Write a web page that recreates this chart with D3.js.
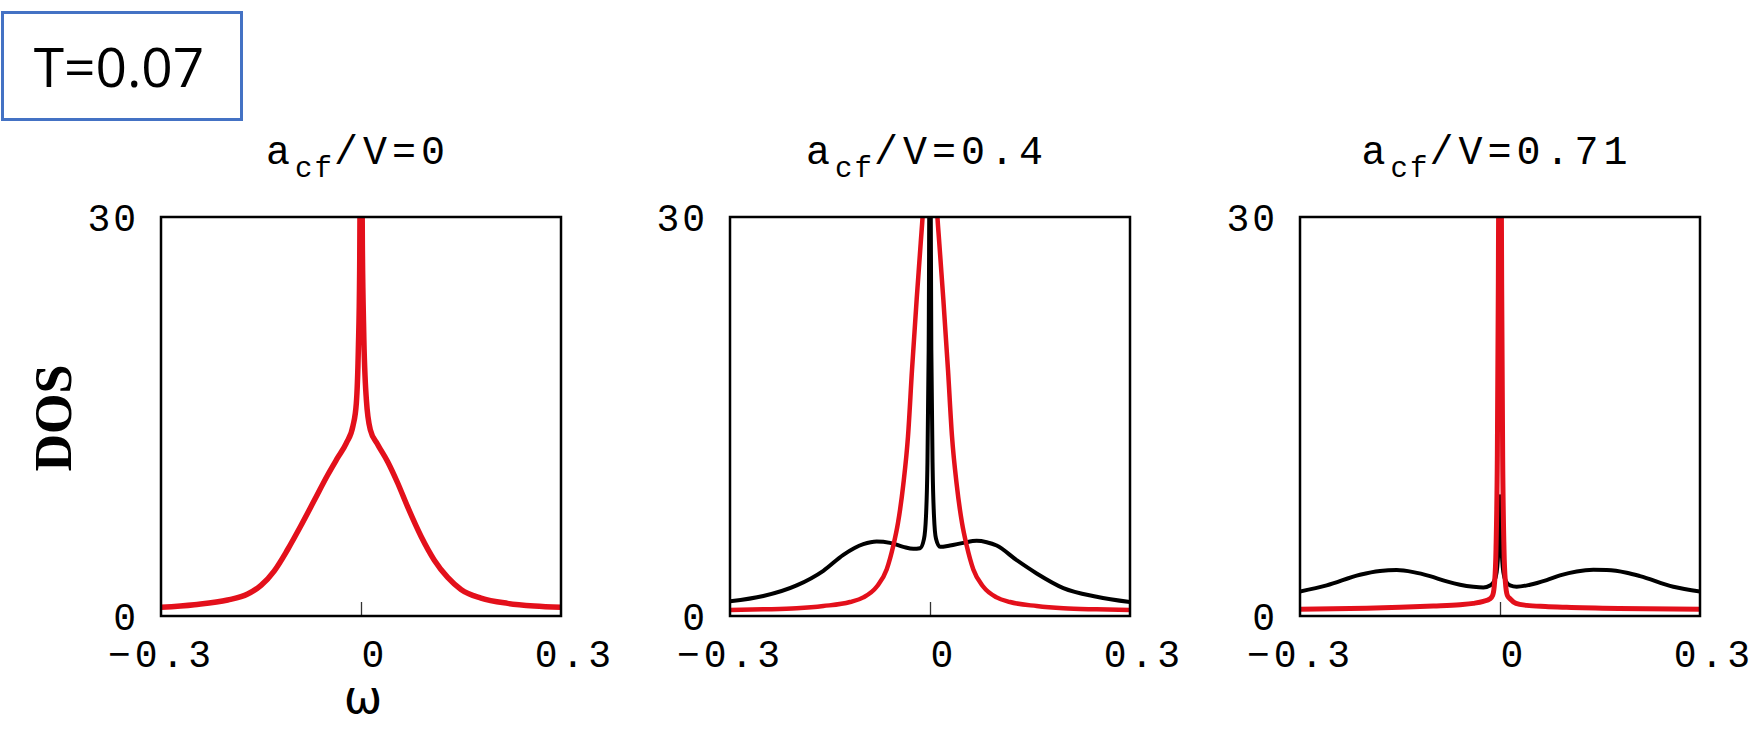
<!DOCTYPE html>
<meta charset="utf-8">
<script src="https://d3js.org/d3.v7.js"></script>
<style>
    body { margin: 0; background: #fff; }
</style>

<dos-chart></dos-chart>

<script>
    // panel titles (value of a_cf/V) and axis ticks
    const ratios = ['0', '0.4', '0.71'];
    const xTicks = [-0.3, 0, 0.3];
    const yTicks = [0, 30];

    // a_cf/V = 0 : both curves coincide, only the red one shows
    const p1Omega = [-0.3, -0.25, -0.2, -0.17, -0.15, -0.13, -0.11, -0.09, -0.07, -0.05, -0.035, -0.022, -0.012, -0.007, -0.004, -0.002, 0,
        0.002, 0.004, 0.008, 0.014, 0.025, 0.04, 0.055, 0.07, 0.09, 0.11, 0.13, 0.15, 0.18, 0.22, 0.26, 0.3];
    const p1Red = [0.65, 0.85, 1.2, 1.65, 2.3, 3.4, 5.0, 6.8, 8.7, 10.6, 11.9, 13.0, 14.3, 16, 20, 26, 45,
        28, 21.5, 16.3, 14.0, 12.9, 11.6, 10.0, 8.2, 6.0, 4.2, 2.9, 2.0, 1.35, 0.95, 0.75, 0.65];

    // a_cf/V = 0.4
    const p2BlackOmega = [-0.3, -0.25, -0.2, -0.16, -0.13, -0.1, -0.08, -0.06, -0.04, -0.025, -0.015, -0.009, -0.006, -0.004, -0.002, 0,
        0.002, 0.004, 0.006, 0.009, 0.015, 0.03, 0.05, 0.07, 0.085, 0.1, 0.13, 0.16, 0.2, 0.25, 0.3];
    const p2Black = [1.1, 1.5, 2.3, 3.4, 4.6, 5.4, 5.6, 5.5, 5.2, 5.05, 5.1, 5.8, 7.5, 11, 20, 42,
        20, 11, 7.5, 5.8, 5.2, 5.3, 5.5, 5.65, 5.55, 5.3, 4.2, 3.2, 2.1, 1.45, 1.05];
    const p2RedOmega = [-0.3, -0.25, -0.2, -0.16, -0.12, -0.1, -0.08, -0.065, -0.055, -0.048, -0.04, -0.033, -0.027, -0.02, -0.014, -0.01, -0.005, 0,
        0.005, 0.01, 0.014, 0.02, 0.027, 0.033, 0.04, 0.048, 0.055, 0.065, 0.08, 0.1, 0.12, 0.16, 0.2, 0.25, 0.3];
    const p2Red = [0.45, 0.5, 0.58, 0.75, 1.05, 1.4, 2.2, 3.5, 5.3, 7, 9.9, 13.5, 18.5, 23.8, 28, 31, 38, 45,
        38, 31, 28, 23.8, 18.5, 13.5, 9.9, 7, 5.3, 3.5, 2.2, 1.4, 1.05, 0.75, 0.58, 0.5, 0.45];

    // a_cf/V = 0.71
    const p3BlackOmega = [-0.3, -0.26, -0.21, -0.18, -0.155, -0.13, -0.105, -0.08, -0.06, -0.04, -0.025, -0.015, -0.009, -0.005, -0.002, 0,
        0.002, 0.005, 0.009, 0.015, 0.025, 0.045, 0.07, 0.09, 0.115, 0.14, 0.16, 0.19, 0.21, 0.26, 0.3];
    const p3Black = [1.84, 2.3, 3.1, 3.38, 3.45, 3.3, 3.0, 2.6, 2.35, 2.2, 2.15, 2.3, 2.6, 3.3, 5.5, 9,
        5.5, 3.3, 2.6, 2.3, 2.2, 2.35, 2.7, 3.05, 3.35, 3.47, 3.45, 3.25, 3.0, 2.2, 1.84];
    const p3RedOmega = [-0.3, -0.2, -0.15, -0.1, -0.06, -0.04, -0.025, -0.015, -0.011, -0.008, -0.006, -0.004, -0.0025, -0.001, 0,
        0.001, 0.0025, 0.004, 0.006, 0.008, 0.011, 0.015, 0.024, 0.04, 0.068, 0.1, 0.178, 0.3];
    const p3Red = [0.5, 0.58, 0.65, 0.75, 0.85, 0.95, 1.1, 1.3, 1.55, 2.6, 5, 12, 25, 45, 60,
        45, 25, 12, 5, 2.6, 1.55, 1.3, 0.95, 0.8, 0.71, 0.65, 0.56, 0.5];

    class DosChart extends HTMLElement {
        connectedCallback() {
            this.innerHTML = `<svg width="1753" height="749"></svg>`;
            this.render();
        }

        render() {
            const svg = d3.select(this.querySelector('svg'));
            const W = 400, H = 399, top = 217;
            const lefts = [161, 730, 1300];

            const panels = [
                [{omega: p1Omega, dos: p1Red, color: '#e3101b', width: 5.5}],
                [{omega: p2BlackOmega, dos: p2Black, color: '#000', width: 4},
                 {omega: p2RedOmega, dos: p2Red, color: '#e3101b', width: 4.5}],
                [{omega: p3BlackOmega, dos: p3Black, color: '#000', width: 4},
                 {omega: p3RedOmega, dos: p3Red, color: '#e3101b', width: 5}]
            ];

            const x = d3.scaleLinear().domain([-0.3, 0.3]).range([0, W]);
            const y = d3.scaleLinear().domain([0, 30]).range([H, 0]);

            svg.append('defs').append('clipPath').attr('id', 'frame-clip')
                .append('rect').attr('width', W).attr('height', H);

            const line = d3.line()
                .x(d => x(d[0]))
                .y(d => y(d[1]))
                .curve(d3.curveMonotoneX);

            const fmt = d => (d < 0 ? '' : '\u00a0') + d3.format('')(d);

            panels.forEach((series, i) => {
                const g = svg.append('g').attr('transform', `translate(${lefts[i]},${top})`);

                // title a_cf/V=...
                const title = g.append('text')
                    .attr('x', W / 2 - 3)
                    .attr('y', -53)
                    .attr('text-anchor', 'middle')
                    .attr('font-family', 'Liberation Mono')
                    .attr('font-size', 40)
                    .attr('letter-spacing', 5);
                title.append('tspan').text('a');
                title.append('tspan').attr('font-size', 29).attr('letter-spacing', 2).attr('dy', 13).text('cf');
                title.append('tspan').attr('dy', -13).text('/V=' + ratios[i]);

                // curves
                const curves = g.append('g').attr('clip-path', 'url(#frame-clip)');
                series.forEach(s => {
                    curves.append('path')
                        .datum(s.omega.map((w, k) => [w, s.dos[k]]))
                        .attr('fill', 'none')
                        .attr('stroke', s.color)
                        .attr('stroke-width', s.width)
                        .attr('stroke-linejoin', 'round')
                        .attr('d', line);
                });

                // small tick at omega = 0
                g.append('g')
                    .attr('transform', `translate(0,${H})`)
                    .call(d3.axisBottom(x).tickValues([0]).tickSizeInner(-14).tickSizeOuter(0).tickFormat(''))
                    .call(a => a.select('.domain').remove())
                    .selectAll('line').attr('stroke', '#333').attr('stroke-width', 1.3);

                // x labels
                g.append('g')
                    .attr('transform', `translate(0,${H})`)
                    .call(d3.axisBottom(x).tickValues(xTicks).tickSize(0).tickPadding(24).tickFormat(fmt))
                    .call(a => a.select('.domain').remove())
                    .selectAll('text')
                    .attr('font-family', 'Liberation Mono')
                    .attr('font-size', 38)
                    .attr('letter-spacing', 4)
                    .attr('fill', '#000');

                // y labels
                g.append('g')
                    .call(d3.axisLeft(y).tickValues(yTicks).tickSize(0).tickPadding(22))
                    .call(a => a.select('.domain').remove())
                    .selectAll('text')
                    .attr('font-family', 'Liberation Mono')
                    .attr('font-size', 38)
                    .attr('letter-spacing', 3)
                    .attr('dy', '0.36em')
                    .attr('fill', '#000');

                // frame
                g.append('rect')
                    .attr('width', W).attr('height', H)
                    .attr('fill', 'none')
                    .attr('stroke', '#000')
                    .attr('stroke-width', 2.5);
            });

            // axis titles
            svg.append('text')
                .attr('transform', 'translate(71,418) rotate(-90)')
                .attr('text-anchor', 'middle')
                .attr('font-family', 'Liberation Serif')
                .attr('font-weight', 'bold')
                .attr('font-size', 52)
                .text('DOS');

            svg.append('text')
                .attr('x', 363).attr('y', 713)
                .attr('text-anchor', 'middle')
                .attr('font-family', 'DejaVu Sans')
                .attr('font-size', 46)
                .text('ω');

            // temperature box
            svg.append('rect')
                .attr('x', 2.5).attr('y', 12.5)
                .attr('width', 239).attr('height', 107)
                .attr('fill', 'none')
                .attr('stroke', '#4472c4')
                .attr('stroke-width', 3);
            svg.append('text')
                .attr('x', 119).attr('y', 87)
                .attr('text-anchor', 'middle')
                .attr('font-family', 'Open Sans')
                .attr('font-size', 55)
                .text('T=0.07');
        }
    }

    window.customElements.define('dos-chart', DosChart);
</script>
